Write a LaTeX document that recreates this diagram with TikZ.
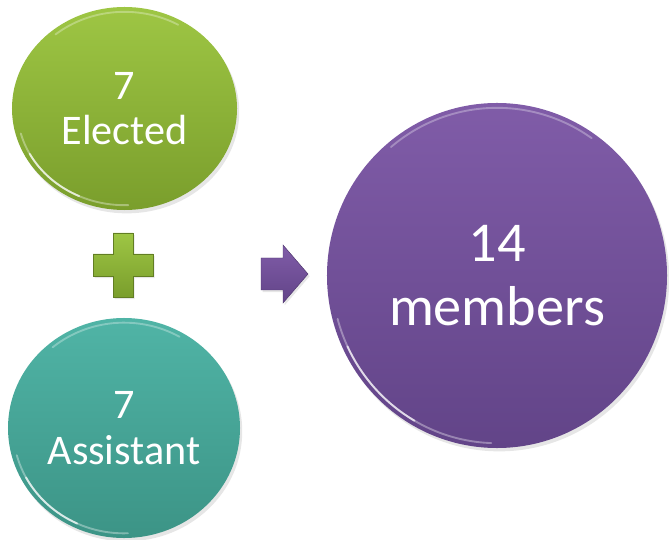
\documentclass[tikz,border=0pt]{standalone}
\usepackage{xcolor}
\usepackage{fontspec}
\setmainfont{Carlito}
\usepackage{tikz}
\usetikzlibrary{shapes.geometric}
\usetikzlibrary{shadows}
\definecolor{leafTop}{RGB}{158,198,68}
\definecolor{leafBot}{RGB}{122,158,44}
\definecolor{tealTop}{RGB}{80,180,166}
\definecolor{tealBot}{RGB}{60,148,134}
\definecolor{plumTop}{RGB}{128,92,168}
\definecolor{plumBot}{RGB}{98,68,136}
\tikzstyle{bubble} = [ellipse, text=white, align=center, inner sep=0pt,
                      drop shadow={opacity=.2, shadow xshift=.4ex, shadow yshift=-.6ex}]
\tikzstyle{small bubble} = [bubble, font=\fontsize{36}{39}\selectfont]
\tikzstyle{big bubble} = [bubble, font=\fontsize{48}{54}\selectfont]
\tikzstyle{gloss} = [white, line width=1.6pt, line cap=round]
\tikzstyle{sign} = [line width=.4pt,
                    drop shadow={opacity=.2, shadow xshift=.3ex, shadow yshift=-.4ex}]

\begin{document}
\begin{tikzpicture}[x=0.03cm, y=-0.03cm]
  \useasboundingbox (0,0) rectangle (669,540);

  % Place nodes
  \node [small bubble, top color=leafTop, bottom color=leafBot,
         minimum width=6.75cm, minimum height=6.09cm] (elected) at (124.5,108.5) {7\\Elected};
  \node [small bubble, top color=tealTop, bottom color=tealBot,
         minimum width=6.96cm, minimum height=6.6cm] (assistant) at (124,428) {7\\Assistant};
  \node [big bubble, top color=plumTop, bottom color=plumBot,
         minimum width=10.2cm, minimum height=10.35cm] (members) at (497,275.5) {14\\members};

  % Glossy rims, drawn just inside each border
  \begin{scope}[shift={(elected.center)}, x=1cm, y=1cm]
    \draw [gloss, opacity=.35] (195:3.22 and 2.9) arc [start angle=195, end angle=272, x radius=3.22, y radius=2.9];
    \draw [gloss, opacity=.7] (208:3.22 and 2.9) arc [start angle=208, end angle=245, x radius=3.22, y radius=2.9];
    \draw [gloss, opacity=.3] (60:3.22 and 2.9) arc [start angle=60, end angle=130, x radius=3.22, y radius=2.9];
  \end{scope}
  \begin{scope}[shift={(assistant.center)}, x=1cm, y=1cm]
    \draw [gloss, opacity=.35] (195:3.33 and 3.16) arc [start angle=195, end angle=272, x radius=3.33, y radius=3.16];
    \draw [gloss, opacity=.7] (208:3.33 and 3.16) arc [start angle=208, end angle=245, x radius=3.33, y radius=3.16];
    \draw [gloss, opacity=.3] (60:3.33 and 3.16) arc [start angle=60, end angle=130, x radius=3.33, y radius=3.16];
  \end{scope}
  \begin{scope}[shift={(members.center)}, x=1cm, y=1cm]
    \draw [gloss, opacity=.35] (195:4.95 and 5.03) arc [start angle=195, end angle=268, x radius=4.95, y radius=5.03];
    \draw [gloss, opacity=.7] (205:4.95 and 5.03) arc [start angle=205, end angle=240, x radius=4.95, y radius=5.03];
    \draw [gloss, opacity=.3] (55:4.95 and 5.03) arc [start angle=55, end angle=130, x radius=4.95, y radius=5.03];
  \end{scope}

  % Plus sign and arrow
  \path [sign, top color=leafTop, bottom color=leafBot, draw=leafBot!80!black]
    (113,233) -- (133,233) -- (133,254) -- (153,254) -- (153,276) -- (133,276)
    -- (133,297) -- (113,297) -- (113,276) -- (93,276) -- (93,254) -- (113,254) -- cycle;
  \path [sign, top color=plumTop, bottom color=plumBot, draw=plumBot!80!black]
    (261,258) -- (283,258) -- (283,245) -- (308,274) -- (283,303) -- (283,290)
    -- (261,290) -- cycle;
\end{tikzpicture}
\end{document}
